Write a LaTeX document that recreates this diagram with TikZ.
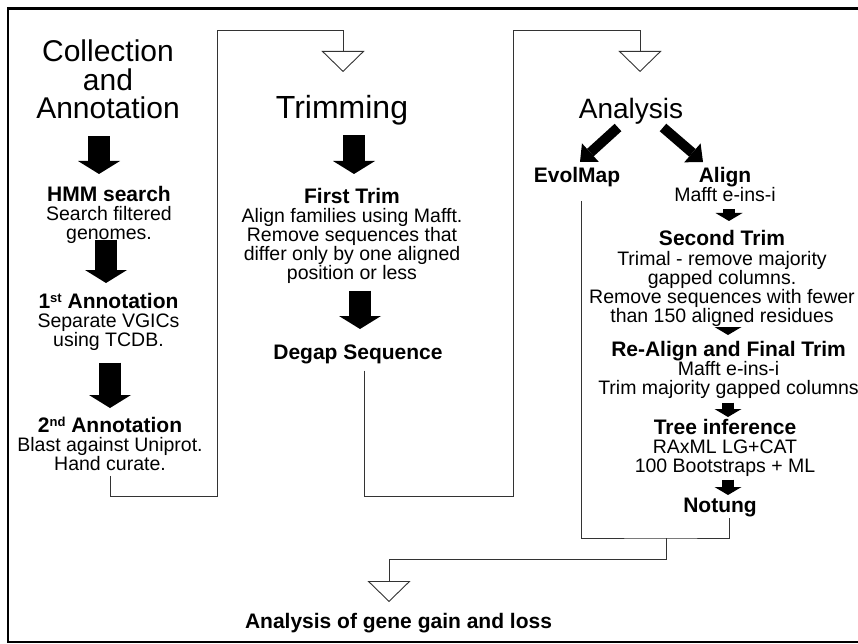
\documentclass[tikz,border=0pt]{standalone}
\usepackage{fontspec}
\setmainfont{Liberation Sans}
\usetikzlibrary{calc,arrows.meta}
\tikzset{
  stagetext/.style={font=\fontsize{28}{28.5}\selectfont, align=center, inner sep=0pt, anchor=north},
  stepbox/.style={font=\fontsize{19.5}{19}\selectfont, align=center, inner sep=0pt, anchor=north},
  fatarrow/.style={line width=22pt, -{Triangle[width=42pt, length=13pt, line width=0pt]}},
  slimarrow/.style={line width=12pt, -{Triangle[width=27pt, length=8pt, line width=0pt]}},
  tiltarrow/.style={line width=10pt, -{Triangle[width=25pt, length=14pt, line width=0pt]}},
  flowline/.style={draw=black!80, line width=0.9pt, -{Triangle[open, width=43pt, length=21pt]}},
  plainline/.style={draw=black!80, line width=0.9pt},
}
\newcommand\steptitle[1]{{\fontsize{21}{19}\bfseries\selectfont #1}}
\newcommand\supscr[1]{\raisebox{5.5pt}{\fontsize{13}{13}\selectfont #1}}
\begin{document}
\begin{tikzpicture}[x=1pt, y=-1pt]
\useasboundingbox (0,0) rectangle (858,644);
\clip (0,0) rectangle (858,644);
\draw[line width=2.7pt] (8,8.7) rectangle (880,642);

\node[stagetext, font=\fontsize{30}{28.5}\selectfont] (coll) at (108,40) {Collection\\and\\Annotation};
\node[stepbox] (hmm) at (109,186) {\steptitle{HMM search}\\Search filtered\\genomes.};
\node[stepbox] (ann1) at (108.5,293) {\steptitle{1\supscr{st} Annotation}\\Separate VGICs\\using TCDB.};
\node[stepbox] (ann2) at (110,417) {\steptitle{2\supscr{nd} Annotation}\\Blast against Uniprot.\\Hand curate.};

\node[stagetext, font=\fontsize{32}{32}\selectfont] (trim) at (342,95) {Trimming};
\node[stepbox] (first) at (352,188) {\steptitle{First Trim}\\Align families using Mafft.\\Remove sequences that\\differ only by one aligned\\position or less};
\node[stepbox] (degap) at (358,345) {\steptitle{Degap Sequence}};

\node[stagetext] (ana) at (631,98) {Analysis};
\node[stepbox] (evol) at (577,167) {\steptitle{EvolMap}};
\node[stepbox] (align) at (725,167) {\steptitle{Align}\\Mafft e-ins-i};
\node[stepbox, font=\fontsize{19.5}{17}\selectfont] (second) at (722,230) {\steptitle{Second Trim}\\[3pt]Trimal - remove majority\\gapped columns.\\Remove sequences with fewer\\than 150 aligned residues};
\node[stepbox] (realign) at (728.5,341) {\steptitle{Re-Align and Final Trim}\\Mafft e-ins-i\\Trim majority gapped columns};
\node[stepbox] (tree) at (725,419) {\steptitle{Tree inference}\\RAxML LG+CAT\\100 Bootstraps + ML};
\node[stepbox] (notung) at (720,498) {\steptitle{Notung}};

\node[stepbox] (final) at (398.5,613) {\steptitle{Analysis of gene gain and loss}};

\draw[fatarrow] ($(coll.south)+(-9,17)$) -- ($(hmm.north)+(-10,-12)$);
\draw[fatarrow] ($(hmm.south)+(-3,-4)$) -- ($(ann1.north)+(-2.5,-10)$);
\draw[fatarrow] ($(ann1.south)+(1.5,12)$) -- ($(ann2.north)+(0,-9)$);
\draw[fatarrow] ($(trim.south)+(12,10)$) -- ($(first.north)+(2,-14)$);
\draw[fatarrow] ($(first.south)+(8,7)$) -- ($(degap.north)+(2,-16)$);
\draw[tiltarrow] ($(ana.south)+(-13,3)$) -- ($(evol.north)+(3,-5)$);
\draw[tiltarrow] ($(ana.south)+(32,3)$) -- ($(align.north)+(-22,-5)$);
\draw[slimarrow] ($(align.south)+(4,7)$) -- ($(second.north)+(7,-9)$);
\draw[slimarrow] ($(second.south)+(6,0)$) -- ($(realign.north)+(-0.5,-6)$);
\draw[slimarrow] ($(realign.south)+(-0.5,4)$) -- ($(tree.north)+(3,-2)$);
\draw[slimarrow] ($(tree.south)+(3,3)$) -- ($(notung.north)+(8,-3)$);

\coordinate (join) at (666,538);
\draw[flowline] ($(ann2.south)+(0,5)$) |- (217,496) -- (217,30) -| ($(trim.north)+(1,-23)$);
\draw[flowline] ($(degap.south)+(6,6)$) |- (513,496) -- (513,30) -| ($(ana.north)+(9,-26)$);
\draw[plainline] ($(evol.south)+(4,14)$) |- (join) -| ($(notung.south)+(9,1)$);
\draw[flowline] (join) |- (389,559) -- ($(final.north)+(-9.5,-11)$);
\end{tikzpicture}
\end{document}
